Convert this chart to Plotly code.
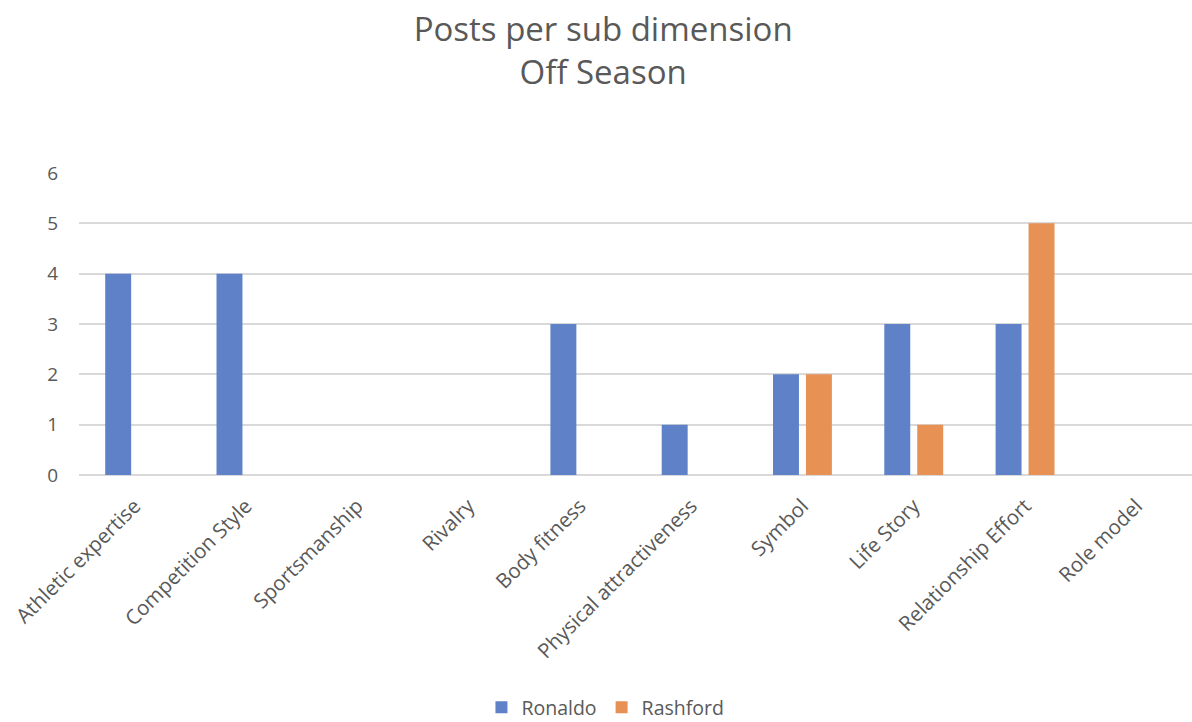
import plotly.graph_objects as go

categories = ["Athletic expertise", "Competition Style", "Sportsmanship", "Rivalry",
              "Body fitness", "Physical attractiveness", "Symbol", "Life Story",
              "Relationship Effort", "Role model"]
ronaldo = [4, 4, 0, 0, 3, 1, 2, 3, 3, 0]
rashford = [0, 0, 0, 0, 0, 0, 2, 1, 5, 0]
y_ticks = [0, 1, 2, 3, 4, 5, 6]

FONT = "'Open Sans', Lato, sans-serif"
GREY = "#595959"

fig = go.Figure()
fig.add_trace(go.Bar(name="Ronaldo", x=categories, y=ronaldo,
                     marker=dict(color="#5f81c7", line=dict(width=0))))
fig.add_trace(go.Bar(name="Rashford", x=categories, y=rashford,
                     marker=dict(color="#e79154", line=dict(width=0))))

fig.update_layout(
    width=1192, height=722,
    paper_bgcolor="white", plot_bgcolor="white",
    barmode="group", bargap=0.408, bargroupgap=0.212,
    margin=dict(l=79, r=0, t=173, b=247, autoexpand=False),
    font=dict(family=FONT, color=GREY, size=19),
    title=dict(text="Posts per sub dimension<br>Off Season",
               x=0.506, xanchor="center", xref="container",
               y=0.943, yanchor="top", yref="container",
               font=dict(size=33, color=GREY, family=FONT)),
    xaxis=dict(tickangle=-45, showgrid=False, showline=False, zeroline=False,
               ticks="", automargin=False, ticklabelstandoff=14,
               tickfont=dict(size=20.5, color=GREY, family=FONT)),
    yaxis=dict(range=[0, 6], tickvals=y_ticks, showgrid=True, gridcolor="#d9d9d9",
               gridwidth=1.5, zeroline=True, zerolinecolor="#d9d9d9", zerolinewidth=1.5,
               showline=False, ticks="", ticklabelstandoff=20, automargin=False,
               tickfont=dict(size=19, color=GREY, family=FONT)),
    legend=dict(orientation="h", x=0.473, xanchor="center",
                y=-0.77, yanchor="middle",
                font=dict(size=19.5, color=GREY, family=FONT),
                traceorder="normal"),
    showlegend=True,
)

fig.write_html("out.html")
